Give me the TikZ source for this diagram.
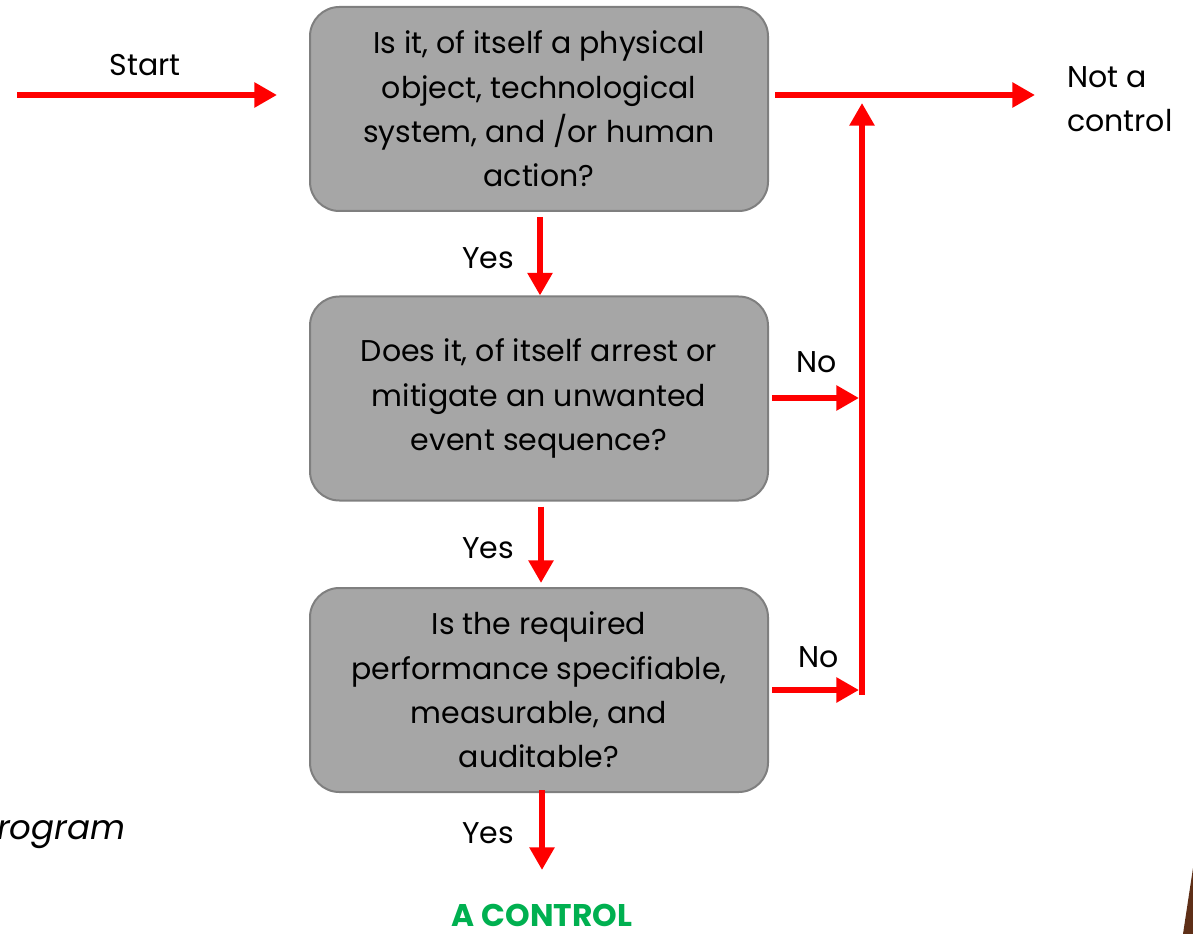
\documentclass[tikz,border=0pt]{standalone}
\usepackage{fontspec}
\setmainfont{Poppins}
\usetikzlibrary{arrows.meta}
\definecolor{boxfill}{HTML}{A6A6A6}
\definecolor{boxline}{HTML}{7F7F7F}
\definecolor{ctrlgreen}{HTML}{00B050}
\definecolor{brownish}{HTML}{5E2F17}
\tikzset{
  qbox/.style={draw=boxline, line width=1.5pt, fill=boxfill, rounded corners=22pt,
    minimum width=343.5pt, minimum height=153pt, align=center,
    font=\fontsize{22.5}{33.2}\selectfont},
  lbl/.style={font=\fontsize{22.5}{33.2}\selectfont, inner sep=0pt},
  arr/.style={draw=red, line width=4.5pt, -{Triangle[length=17pt,width=18pt]}},
}
\begin{document}
\begin{tikzpicture}[x=0.75pt,y=-0.75pt]
\useasboundingbox (0,0) rectangle (1193,934);
\begin{scope}
\clip (0,0) rectangle (1193,934);
% boxes
\node[qbox] (q1) at (539,109) {Is it, of itself a physical\\object, technological\\system, and /or human\\action?};
\node[qbox] (q2) at (539,398.5) {Does it, of itself arrest or\\mitigate an unwanted\\event sequence?};
\node[qbox] (q3) at (539,690) {Is the required\\performance specifiable,\\measurable, and\\auditable?};
% labels
\node[lbl] (start) at (145,65) {Start};
\node[lbl, anchor=west, align=left] (notc) at (1067,99) {Not a\\control};
\node[lbl] (yes1) at (488,258) {Yes};
\node[lbl] (yes2) at (488,548) {Yes};
\node[lbl] (yes3) at (488,833) {Yes};
\node[lbl] (no1) at (817,362) {No};
\node[lbl] (no2) at (819,657) {No};
\node[lbl, text=ctrlgreen, font=\fontsize{23.5}{26}\bfseries\selectfont] (ctrl) at (542,915) {A CONTROL};
\node[lbl, anchor=west, font=\fontsize{25.5}{28}\itshape\selectfont] (prog) at (-3,832) {\llap{P}rogram};
% coordinates
\coordinate (sL) at (17,95);
\coordinate (sR) at (277,95);
\coordinate (nL) at (775,95);
\coordinate (nR) at (1035,95);
\coordinate (vB) at (862,695);
\coordinate (vT) at (862,103);
\coordinate (n1L) at (772,398);
\coordinate (n1R) at (859,398);
\coordinate (n2L) at (772,690);
\coordinate (n2R) at (859,690);
\coordinate (y3T) at (542,790);
\coordinate (y3B) at (542,870);
% connectors
\draw[arr] (sL) -- (sR);
\draw[arr] (nL) -- (nR);
\draw[arr] (vB) -- (vT);
\draw[arr] (n1L) -- (n1R);
\draw[arr] (n2L) -- (n2R);
\draw[arr] ([xshift=0.75pt,yshift=-3.75pt]q1.south) -- ([xshift=0.75pt]q2.north);
\draw[arr] ([xshift=1.5pt,yshift=-3.75pt]q2.south) -- ([xshift=1.5pt,yshift=3pt]q3.north);
\draw[arr] (y3T) -- (y3B);
% brown corner shape
\fill[brownish] (1193,868) -- (1183,934) -- (1193,934) -- cycle;
\end{scope}
\end{tikzpicture}
\end{document}
